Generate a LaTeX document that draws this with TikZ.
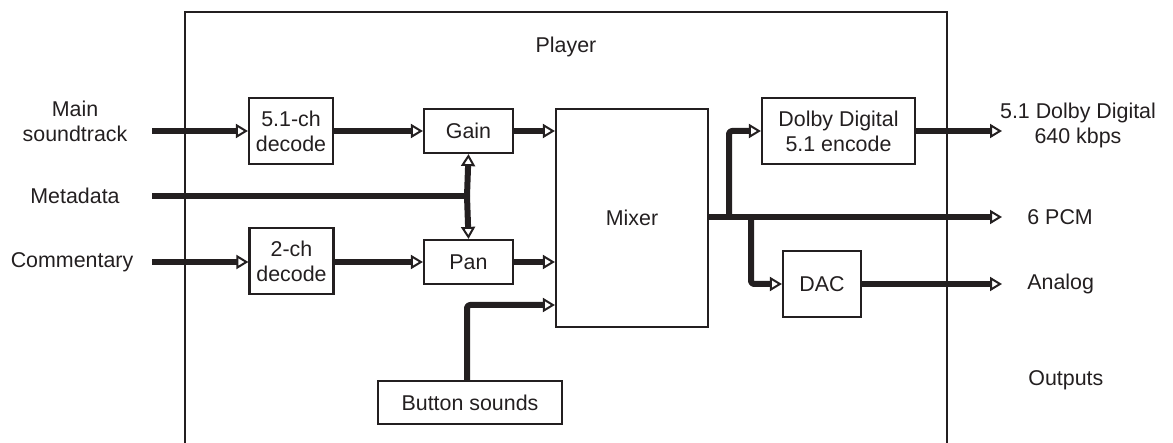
\documentclass[tikz,border=0pt]{standalone}
\usepackage{fontspec}
\setmainfont{Liberation Sans}
\usetikzlibrary{arrows.meta}
\definecolor{ink}{HTML}{231F20}
\tikzset{
  blk/.style={draw=ink, line width=1.1pt, inner sep=0pt, align=center, text=ink, font=\fontsize{10.7}{12.5}\selectfont},
  lbl/.style={inner sep=0pt, align=center, text=ink, font=\fontsize{10.7}{12.5}\selectfont},
  sig/.style={draw=ink, line width=3pt, line join=round, rounded corners=1.5pt,
    -{Triangle[open, line width=1pt, length=6pt, width=7pt]}},
  wire/.style={draw=ink, line width=3pt, line join=round, rounded corners=1.5pt},
}
\begin{document}
\begin{tikzpicture}[x=0.5pt,y=-0.5pt]
\useasboundingbox (0,0) rectangle (1173,443);
% outer player frame
\draw[ink, line width=1.1pt] (185,446) -- (185,12) -- (947,12) -- (947,446);
\node[lbl] (player) at (566,47) {Player};
% blocks
\node[blk, minimum width=42pt, minimum height=33pt] (dec51) at (291,131) {5.1-ch\\decode};
\node[blk, minimum width=42pt, minimum height=33pt] (dec2) at (291.5,261) {2-ch\\decode};
\node[blk, minimum width=44.5pt, minimum height=22pt] (gain) at (468.5,131) {Gain};
\node[blk, minimum width=44.5pt, minimum height=22pt] (pan) at (468.5,262) {Pan};
\node[blk, minimum width=76pt, minimum height=109pt] (mixer) at (632,218) {Mixer};
\node[blk, minimum width=92pt, minimum height=21.5pt] (button) at (470,402.5) {Button sounds};
\node[blk, minimum width=76.5pt, minimum height=33pt] (dolby) at (838.5,131) {Dolby Digital\\5.1 encode};
\node[blk, minimum width=39pt, minimum height=33pt] (dac) at (822,284) {DAC};
% input labels
\node[lbl] (main) at (75,121) {Main\\soundtrack};
\node[lbl] (meta) at (75,196) {Metadata};
\node[lbl] (comm) at (72,262) {Commentary};
\coordinate (inM) at (152,131);
\coordinate (inD) at (152,196);
\coordinate (inC) at (152,262);
\coordinate (jM) at (467,196);
% output labels
\coordinate (outD) at (1002,131);
\coordinate (outP) at (1002,217);
\coordinate (outA) at (1002,284);
\node[lbl] (ddout) at (1078,125) {5.1 Dolby Digital\\640 kbps};
\node[lbl, anchor=west] (pcm) at (1027,217) {6 PCM};
\node[lbl, anchor=west] (analog) at (1027,284) {Analog};
\node[lbl, anchor=west] (outputs) at (1028,380) {Outputs};
% connectors
\draw[sig] (inM) -- (dec51.west);
\draw[sig] (dec51.east) -- (gain.west);
\draw[sig] (gain.east) -- (mixer.west |- gain.east);
\draw[sig] (inC) -- (dec2.west |- inC);
\draw[sig] (dec2.east |- pan.west) -- (pan.west);
\draw[sig] (pan.east) -- (mixer.west |- pan.east);
\draw[wire] (inD) -- (jM);
\draw[sig] (jM) -- (gain.south);
\draw[sig] (jM) -- (pan.north);
\draw[sig] (button.north -| jM) -- (467,305) -- (mixer.west |- 0,305);
\coordinate (mo) at (mixer.east |- 0,217);
\draw[sig] (mo) -- (outP);
\draw[sig] (729,217) -- (729,131) -- (dolby.west);
\draw[sig] (751,217) -- (751,284) -- (dac.west);
\draw[sig] (dolby.east) -- (outD);
\draw[sig] (dac.east) -- (outA);
\end{tikzpicture}
\end{document}
